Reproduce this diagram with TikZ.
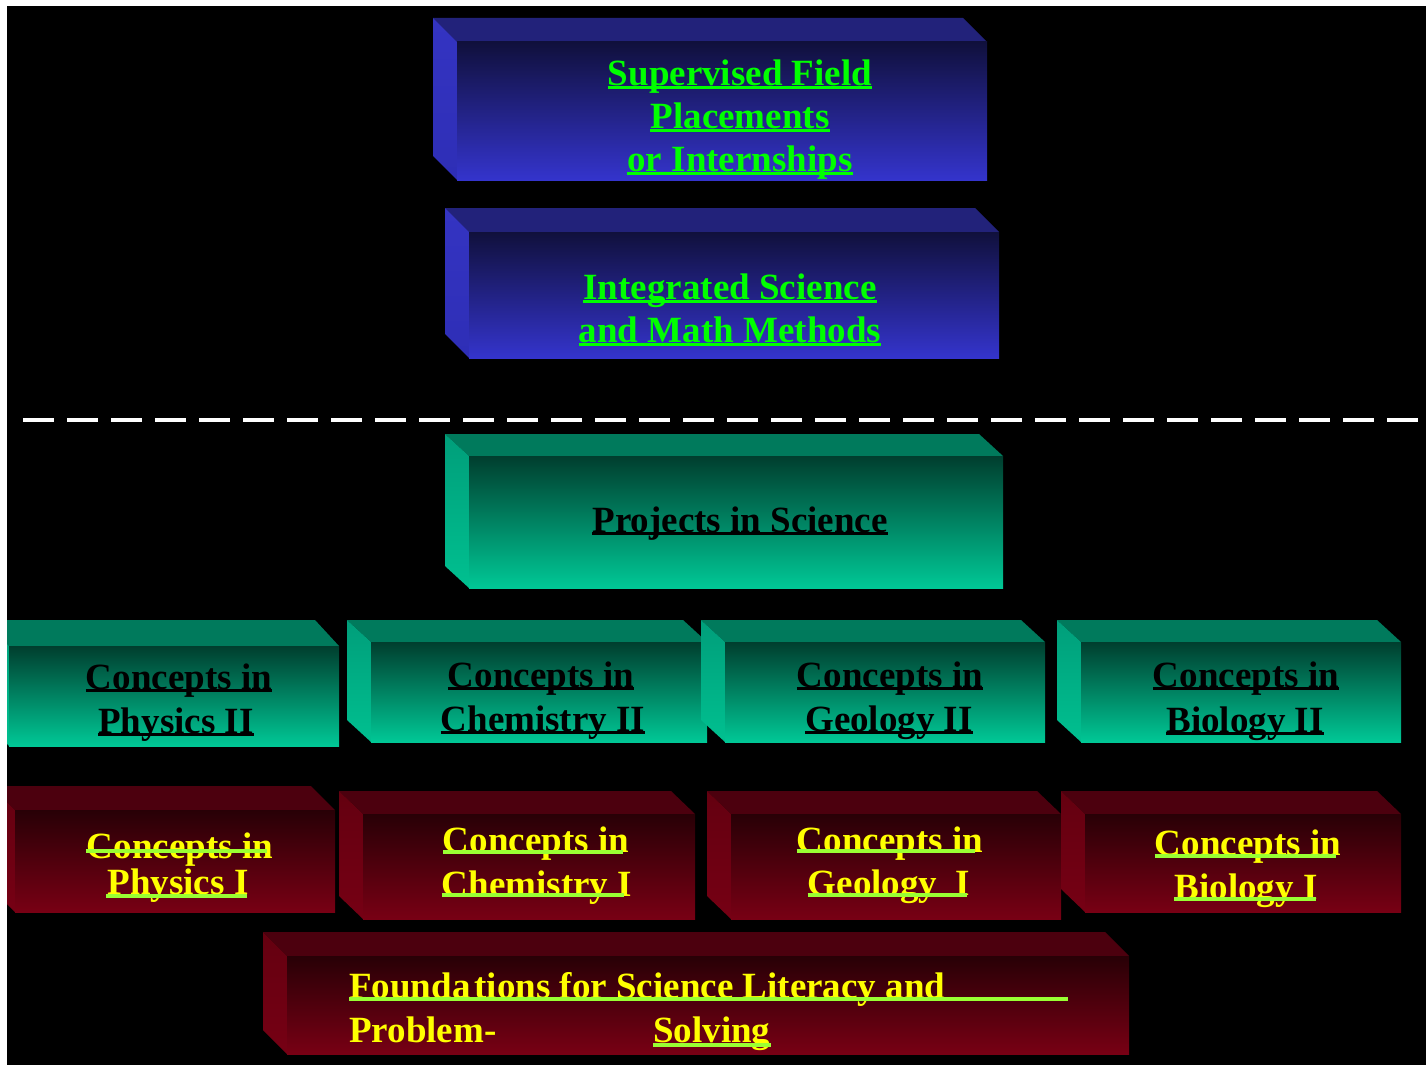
\documentclass[tikz,border=0pt]{standalone}
\usepackage{fontspec}
\setmainfont{Liberation Serif}
\definecolor{bTop}{HTML}{22227A}
\definecolor{bLeftA}{HTML}{3434C2}
\definecolor{bLeftB}{HTML}{2E2EB6}
\definecolor{bFrontA}{HTML}{10103C}
\definecolor{bFrontM}{HTML}{24248E}
\definecolor{bFrontB}{HTML}{3434CC}
\definecolor{tTop}{HTML}{007A5C}
\definecolor{tLeftA}{HTML}{009E7A}
\definecolor{tLeftB}{HTML}{00C090}
\definecolor{tFrontA}{HTML}{003E2E}
\definecolor{tFrontM}{HTML}{009672}
\definecolor{tFrontB}{HTML}{00C896}
\definecolor{rTop}{HTML}{4C000E}
\definecolor{rLeftA}{HTML}{640010}
\definecolor{rLeftB}{HTML}{760014}
\definecolor{rFrontA}{HTML}{280006}
\definecolor{rFrontM}{HTML}{55000F}
\definecolor{rFrontB}{HTML}{780014}
\definecolor{txtGreen}{HTML}{00FF00}
\definecolor{txtYellow}{HTML}{FFFF00}
\definecolor{lime}{HTML}{99FF33}
% #1 x0, #2 y0, #3 x1, #4 y1 (front face), #5 depth in y, #6 scheme letter
\newcommand{\slab}[6]{%
  \fill[#6Top] (#1-24,#2-#5) -- (#3-24,#2-#5) -- (#3,#2) -- (#1,#2) -- cycle;
  \shade[top color=#6LeftA, bottom color=#6LeftB] (#1-24,#2-#5) -- (#1,#2) -- (#1,#4) -- (#1-24,#4-#5) -- cycle;
  \shade[top color=#6FrontA, middle color=#6FrontM, bottom color=#6FrontB] (#1,#2) rectangle (#3,#4);
}
\tikzset{
  lbl/.style={inner sep=0pt, anchor=base, font=\fontsize{37}{44}\selectfont\bfseries},
  lblL/.style={lbl, anchor=base west},
  ulG/.style={draw=txtGreen, line width=3pt},
  ulK/.style={draw=black, line width=3pt},
  ulL/.style={draw=lime, line width=3.5pt},
}
\begin{document}
\begin{tikzpicture}[x=1pt,y=-1pt]
\useasboundingbox (0,0) rectangle (1426,1065);
\fill[white] (0,0) rectangle (1426,1065);
\fill[black] (7,6) rectangle (1426,1065);
\begin{scope}
\clip (7,6) rectangle (1426,1065);
% blue boxes
\slab{457}{42}{987}{180}{24}{b}
\slab{469}{232}{999}{358}{24}{b}
% dashed separator
\coordinate (dl) at (23,420);
\coordinate (dr) at (1430,420);
\draw[white, line width=3.5pt, dash pattern=on 31pt off 13pt] (dl) -- (dr);
% teal boxes
\slab{469}{456}{1003}{588}{22}{t}
\slab{9}{646}{339}{746}{26}{t}
\slab{371}{642}{707}{742}{22}{t}
\slab{725}{642}{1045}{742}{22}{t}
\slab{1081}{642}{1401}{742}{22}{t}
% red boxes
\slab{15}{810}{335}{912}{24}{r}
\slab{363}{814}{695}{919}{23}{r}
\slab{731}{814}{1061}{919}{23}{r}
\slab{1085}{814}{1401}{912}{23}{r}
\slab{287}{956}{1129}{1054}{24}{r}
\end{scope}

% ---- texts: blue boxes
\node[lbl, text=txtGreen] (sf1) at (740,85) {Supervised Field};
\node[lbl, text=txtGreen] (sf2) at (740,128) {Placements};
\node[lbl, text=txtGreen] (sf3) at (740,171) {or Internships};
\node[lbl, text=txtGreen] (is1) at (730,299) {Integrated Science};
\node[lbl, text=txtGreen] (is2) at (730,342) {and Math Methods};
\foreach \n in {sf1,sf2,sf3,is1,is2}
  \draw[ulG] ([yshift=-2pt]\n.base west) -- ([yshift=-2pt]\n.base east);

% ---- texts: teal boxes
\node[lbl] (pis) at (740,532) {Projects in Science};
\node[lbl] (p2a) at (179,689) {Concepts in};
\node[lbl] (p2b) at (176,733) {Physics II};
\node[lbl] (c2a) at (541,687) {Concepts in};
\node[lbl] (c2b) at (543,731) {Chemistry II};
\node[lbl] (g2a) at (890,687) {Concepts in};
\node[lbl] (g2b) at (889,731) {Geology II};
\node[lbl] (b2a) at (1246,687) {Concepts in};
\node[lbl] (b2b) at (1245,732) {Biology II};
\foreach \n in {pis,p2a,p2b,c2a,c2b,g2a,g2b,b2a,b2b}
  \draw[ulK] ([yshift=-1.5pt]\n.base west) -- ([yshift=-1.5pt]\n.base east);

% ---- texts: red boxes
\node[lbl, text=txtYellow] (p1a) at (180,858) {Concepts in};
\node[lbl, text=txtYellow] (p1b) at (178,894) {Physics I};
\node[lbl, text=txtYellow] (c1a) at (536,852) {Concepts in};
\node[lbl, text=txtYellow] (c1b) at (537,896) {Chemistry I};
\node[lbl, text=txtYellow] (g1a) at (890,852) {Concepts in};
\node[lbl, text=txtYellow] (g1b) at (889,895) {Geology\ \ I};
\node[lbl, text=txtYellow] (b1a) at (1248,855) {Concepts in};
\node[lbl, text=txtYellow] (b1b) at (1246,899) {Biology I};
\draw[ulL] ([xshift=-1pt,yshift=7pt]p1a.base west) -- ([xshift=-6pt,yshift=7pt]p1a.base east);
\draw[ulL] ([xshift=-1pt,yshift=-2pt]p1b.base west) -- ([xshift=-2pt,yshift=-2pt]p1b.base east);
\draw[ulL] ([yshift=0pt]c1a.base west) -- ([xshift=-6pt]c1a.base east);
\draw[ulL] ([yshift=1pt]c1b.base west) -- ([xshift=-8pt,yshift=1pt]c1b.base east);
\draw[ulL] ([yshift=1pt]g1a.base west) -- ([xshift=-8pt,yshift=1pt]g1a.base east);
\draw[ulL] (g1b.base west) -- ([xshift=-3pt]g1b.base east);
\draw[ulL] ([yshift=-1pt]b1a.base west) -- ([xshift=-5pt,yshift=-1pt]b1a.base east);
\draw[ulL] (b1b.base west) -- ([xshift=-2pt]b1b.base east);

% ---- foundations
\node[lblL, text=txtYellow] (fd1) at (349,998) {Founda\hspace{4pt}tions for Science Literacy and};
\node[lblL, text=txtYellow] (fd2) at (349,1042) {Problem-};
\node[lblL, text=txtYellow] (fd3) at (653,1042) {Solving};
\coordinate (fdEnd) at (1068,999);
\draw[ulL] ([yshift=-1pt]fd1.base west) -- (fdEnd);
\draw[ulL] ([yshift=-3pt]fd3.base west) -- ([yshift=-3pt]fd3.base east);
\end{tikzpicture}
\end{document}
